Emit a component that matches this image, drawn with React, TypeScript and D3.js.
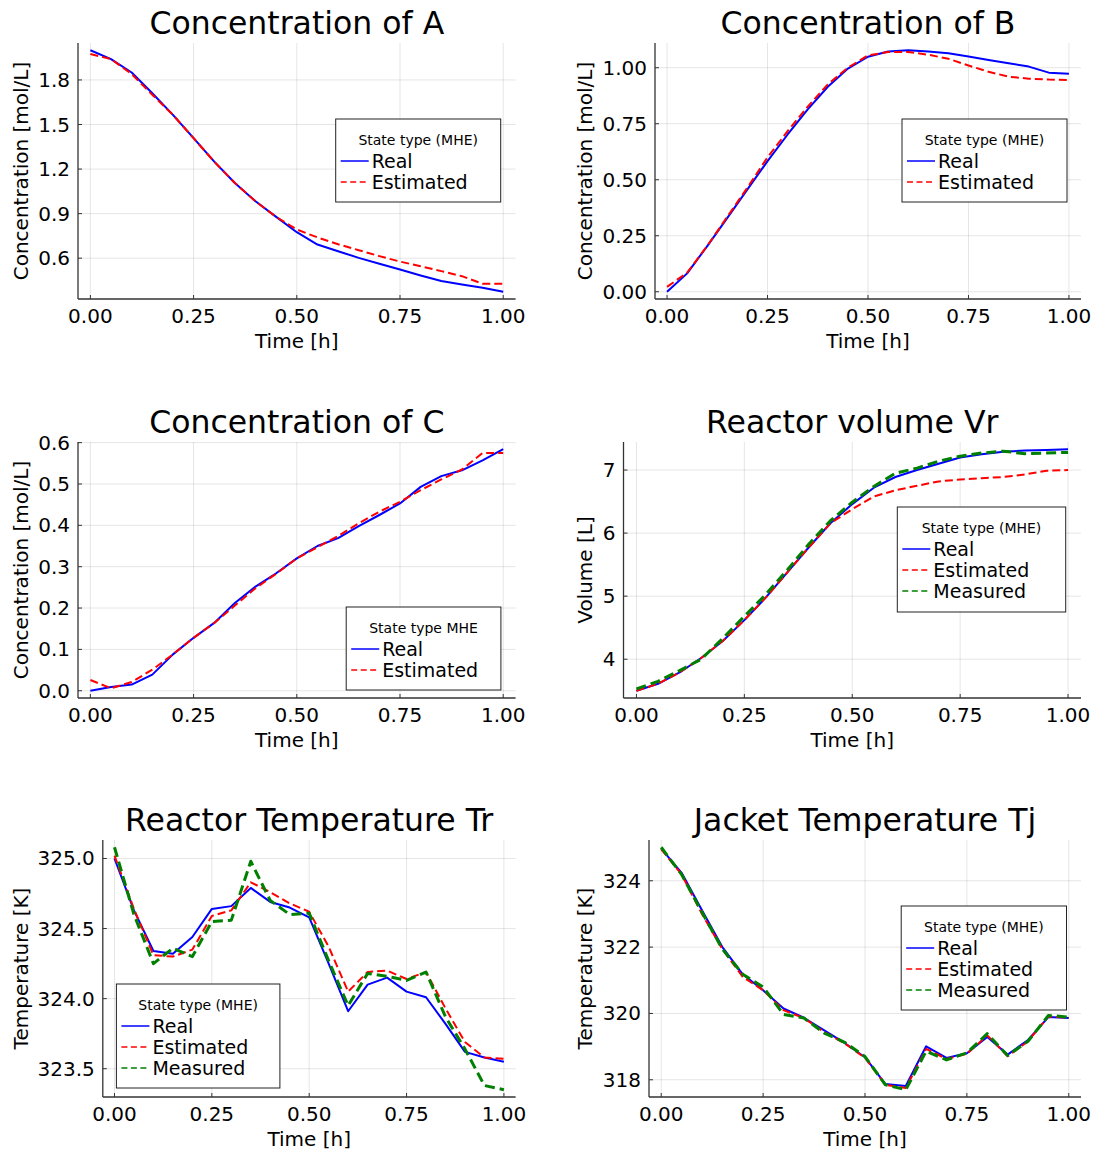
import React from 'react';
import * as d3 from 'd3';

// sampling times [h]
const timeH = [0, 0.05, 0.1, 0.15, 0.2, 0.25, 0.3, 0.35, 0.4, 0.45, 0.5, 0.55, 0.6, 0.65, 0.7, 0.75, 0.8, 0.85, 0.9, 0.95, 1.0];

// Concentration of A [mol/L]
const caReal = [2.0, 1.94, 1.85, 1.71, 1.565, 1.408, 1.25, 1.106, 0.983, 0.878, 0.775, 0.692, 0.647, 0.602, 0.562, 0.524, 0.484, 0.446, 0.423, 0.401, 0.374];
const caEst = [1.975, 1.94, 1.84, 1.70, 1.565, 1.408, 1.25, 1.106, 0.983, 0.878, 0.793, 0.74, 0.694, 0.654, 0.614, 0.577, 0.546, 0.513, 0.479, 0.428, 0.428];

// Concentration of B [mol/L]
const cbReal = [0.0, 0.082, 0.204, 0.33, 0.457, 0.583, 0.702, 0.814, 0.915, 0.996, 1.049, 1.072, 1.078, 1.072, 1.065, 1.05, 1.034, 1.02, 1.005, 0.978, 0.973];
const cbEst = [0.022, 0.085, 0.205, 0.335, 0.465, 0.6, 0.717, 0.826, 0.926, 1.0, 1.055, 1.07, 1.07, 1.058, 1.04, 1.01, 0.982, 0.96, 0.951, 0.947, 0.945];

// Concentration of C [mol/L]
const ccReal = [0.0, 0.009, 0.015, 0.039, 0.088, 0.128, 0.164, 0.212, 0.252, 0.284, 0.32, 0.35, 0.369, 0.398, 0.425, 0.453, 0.493, 0.519, 0.533, 0.557, 0.584];
const ccEst = [0.026, 0.006, 0.021, 0.051, 0.088, 0.128, 0.164, 0.206, 0.248, 0.283, 0.32, 0.347, 0.374, 0.405, 0.433, 0.457, 0.485, 0.511, 0.535, 0.575, 0.575];

// Reactor volume [L]
const vrReal = [3.5, 3.61, 3.79, 4.02, 4.29, 4.62, 4.98, 5.38, 5.78, 6.16, 6.46, 6.72, 6.89, 7.0, 7.1, 7.2, 7.25, 7.29, 7.31, 7.32, 7.33];
const vrEst = [3.5, 3.61, 3.79, 4.02, 4.29, 4.62, 4.98, 5.38, 5.78, 6.16, 6.38, 6.58, 6.68, 6.75, 6.82, 6.85, 6.87, 6.89, 6.93, 6.99, 7.0];
const vrMeas = [3.53, 3.65, 3.82, 4.0, 4.33, 4.68, 5.03, 5.42, 5.83, 6.2, 6.49, 6.74, 6.95, 7.03, 7.14, 7.22, 7.27, 7.3, 7.26, 7.27, 7.28];

// Reactor temperature [K]
const trReal = [325.0, 324.63, 324.34, 324.32, 324.44, 324.64, 324.66, 324.79, 324.69, 324.65, 324.58, 324.25, 323.91, 324.1, 324.15, 324.05, 324.01, 323.82, 323.62, 323.58, 323.55];
const trEst = [325.02, 324.64, 324.31, 324.30, 324.35, 324.59, 324.63, 324.83, 324.76, 324.68, 324.62, 324.37, 324.05, 324.19, 324.2, 324.14, 324.19, 323.93, 323.69, 323.58, 323.57];
const trMeas = [325.08, 324.6, 324.25, 324.36, 324.3, 324.55, 324.56, 324.98, 324.7, 324.6, 324.61, 324.27, 323.95, 324.18, 324.16, 324.13, 324.19, 323.87, 323.64, 323.38, 323.35];

// Jacket temperature [K]
const tjReal = [324.97, 324.24, 323.11, 322.0, 321.18, 320.7, 320.15, 319.87, 319.49, 319.11, 318.68, 317.87, 317.81, 319.01, 318.66, 318.8, 319.29, 318.76, 319.2, 319.89, 319.86];
const tjEst = [324.95, 324.19, 323.0, 321.94, 321.1, 320.7, 320.1, 319.86, 319.44, 319.1, 318.66, 317.85, 317.75, 318.93, 318.63, 318.78, 319.34, 318.71, 319.16, 319.91, 319.87];
const tjMeas = [325.01, 324.19, 323.05, 321.94, 321.18, 320.8, 319.97, 319.86, 319.41, 319.13, 318.7, 317.85, 317.7, 318.86, 318.6, 318.81, 319.39, 318.73, 319.16, 319.94, 319.89];

// tick labels
const xTicks = ['0.00', '0.25', '0.50', '0.75', '1.00'];
const caTicks = ['0.6', '0.9', '1.2', '1.5', '1.8'];
const cbTicks = ['0.00', '0.25', '0.50', '0.75', '1.00'];
const ccTicks = ['0.0', '0.1', '0.2', '0.3', '0.4', '0.5', '0.6'];
const vrTicks = ['4', '5', '6', '7'];
const trTicks = ['323.5', '324.0', '324.5', '325.0'];
const tjTicks = ['318', '320', '322', '324'];

const FONT = '"DejaVu Sans", Verdana, sans-serif';

const STYLES = {
  Real: { color: '#0000ff', width: 2, dash: null, legendDash: null },
  Estimated: { color: '#ff0000', width: 2, dash: '8 4', legendDash: '6 3.5' },
  Measured: { color: '#008000', width: 3, dash: '10 5', legendDash: '6 3.5' },
};

type Series = { name: string; values: number[] };

type PanelProps = {
  title: string;
  yLabel: string;
  series: Series[];
  yTicks: string[];
  left: number;
  right: number;
  top: number;
  bottom: number;
  labelX: number;
  legend: { x: number; y: number; w: number; h: number; title: string };
};

const Panel = ({ title, yLabel, series, yTicks, left, right, top, bottom, labelX, legend }: PanelProps) => {
  // Plots.jl style: widen data extent by 3% on each side
  const widen = (ext: [number, number]) => {
    const r = ext[1] - ext[0];
    return [ext[0] - 0.03 * r, ext[1] + 0.03 * r];
  };
  const x = d3.scaleLinear().domain(widen(d3.extent(timeH) as [number, number])).range([left, right]);
  const allY = series.flatMap((s) => s.values);
  const y = d3.scaleLinear().domain(widen(d3.extent(allY) as [number, number])).range([bottom, top]);

  const line = (vals: number[]) =>
    d3
      .line<number>()
      .x((_, i) => x(timeH[i]))
      .y((d) => y(d))(vals) || '';

  const cx = (left + right) / 2;

  return (
    <g>
      {/* grid */}
      {xTicks.map((t) => (
        <line key={'gx' + t} x1={x(+t)} x2={x(+t)} y1={top} y2={bottom} stroke="#000" strokeOpacity={0.1} strokeWidth={1} />
      ))}
      {yTicks.map((t) => (
        <line key={'gy' + t} x1={left} x2={right} y1={y(+t)} y2={y(+t)} stroke="#000" strokeOpacity={0.1} strokeWidth={1} />
      ))}
      {/* axes */}
      <line x1={left} x2={right} y1={bottom} y2={bottom} stroke="#333" strokeWidth={1.3} />
      <line x1={left} x2={left} y1={top} y2={bottom} stroke="#333" strokeWidth={1.3} />
      {xTicks.map((t) => (
        <g key={'tx' + t}>
          <line x1={x(+t)} x2={x(+t)} y1={bottom} y2={bottom - 4} stroke="#333" />
          <text x={x(+t)} y={bottom + 16.5} textAnchor="middle" dominantBaseline="central" fontSize={20}>
            {t}
          </text>
        </g>
      ))}
      {yTicks.map((t) => (
        <g key={'ty' + t}>
          <line x1={left} x2={left + 4} y1={y(+t)} y2={y(+t)} stroke="#333" />
          <text x={left - 8} y={y(+t)} textAnchor="end" dominantBaseline="central" fontSize={20}>
            {t}
          </text>
        </g>
      ))}
      {/* labels */}
      <text x={cx} y={bottom + 41.5} textAnchor="middle" dominantBaseline="central" fontSize={20}>
        Time [h]
      </text>
      <text
        transform={`translate(${labelX},${(top + bottom) / 2}) rotate(-90)`}
        textAnchor="middle"
        dominantBaseline="central"
        fontSize={20}
      >
        {yLabel}
      </text>
      <text x={cx} y={top - 20} textAnchor="middle" dominantBaseline="central" fontSize={31.5}>
        {title}
      </text>
      {/* series */}
      <g>
        {series.map((s) => {
          const st = STYLES[s.name];
          return (
            <path
              key={s.name}
              d={line(s.values)}
              fill="none"
              stroke={st.color}
              strokeWidth={st.width}
              strokeDasharray={st.dash || undefined}
              strokeLinejoin="round"
            />
          );
        })}
      </g>
      {/* legend */}
      <g>
        <rect x={legend.x} y={legend.y} width={legend.w} height={legend.h} fill="#fff" stroke="#222" strokeWidth={1} />
        <text x={legend.x + legend.w / 2} y={legend.y + 21} textAnchor="middle" dominantBaseline="central" fontSize={14}>
          {legend.title}
        </text>
        {series.map((s, i) => {
          const st = STYLES[s.name];
          const ly = legend.y + 42 + i * 21;
          return (
            <g key={'lg' + s.name}>
              <line
                x1={legend.x + 5}
                x2={legend.x + 33}
                y1={ly}
                y2={ly}
                stroke={st.color}
                strokeWidth={1.5}
                strokeDasharray={st.legendDash || undefined}
              />
              <text x={legend.x + 36} y={ly} dominantBaseline="central" fontSize={19}>
                {s.name}
              </text>
            </g>
          );
        })}
      </g>
    </g>
  );
};

const App = () => {
  return (
    <>
      <style>{'body{margin:0}'}</style>
      <svg width={1099} height={1149} style={{ display: 'block', background: '#fff', fontFamily: FONT }}>
        <Panel
          title="Concentration of A"
          yLabel="Concentration [mol/L]"
          series={[
            { name: 'Real', values: caReal },
            { name: 'Estimated', values: caEst },
          ]}
          yTicks={caTicks}
          left={78}
          right={515.6}
          top={43}
          bottom={299}
          labelX={21}
          legend={{ x: 335.7, y: 119, w: 165, h: 83, title: 'State type (MHE)' }}
        />
        <Panel
          title="Concentration of B"
          yLabel="Concentration [mol/L]"
          series={[
            { name: 'Real', values: cbReal },
            { name: 'Estimated', values: cbEst },
          ]}
          yTicks={cbTicks}
          left={655}
          right={1081}
          top={43}
          bottom={299}
          labelX={585}
          legend={{ x: 902, y: 119, w: 165, h: 83, title: 'State type (MHE)' }}
        />
        <Panel
          title="Concentration of C"
          yLabel="Concentration [mol/L]"
          series={[
            { name: 'Real', values: ccReal },
            { name: 'Estimated', values: ccEst },
          ]}
          yTicks={ccTicks}
          left={78}
          right={515.6}
          top={442}
          bottom={698}
          labelX={21}
          legend={{ x: 346.2, y: 607, w: 154.7, h: 83, title: 'State type MHE' }}
        />
        <Panel
          title="Reactor volume Vr"
          yLabel="Volume [L]"
          series={[
            { name: 'Real', values: vrReal },
            { name: 'Estimated', values: vrEst },
            { name: 'Measured', values: vrMeas },
          ]}
          yTicks={vrTicks}
          left={623.5}
          right={1081}
          top={442}
          bottom={698}
          labelX={585}
          legend={{ x: 897.3, y: 507, w: 168.4, h: 105, title: 'State type (MHE)' }}
        />
        <Panel
          title="Reactor Temperature Tr"
          yLabel="Temperature [K]"
          series={[
            { name: 'Real', values: trReal },
            { name: 'Estimated', values: trEst },
            { name: 'Measured', values: trMeas },
          ]}
          yTicks={trTicks}
          left={102.8}
          right={515.6}
          top={840}
          bottom={1097}
          labelX={21}
          legend={{ x: 116.4, y: 984, w: 163.5, h: 104, title: 'State type (MHE)' }}
        />
        <Panel
          title="Jacket Temperature Tj"
          yLabel="Temperature [K]"
          series={[
            { name: 'Real', values: tjReal },
            { name: 'Estimated', values: tjEst },
            { name: 'Measured', values: tjMeas },
          ]}
          yTicks={tjTicks}
          left={649}
          right={1081}
          top={840}
          bottom={1097}
          labelX={585}
          legend={{ x: 901.2, y: 906, w: 165.3, h: 104, title: 'State type (MHE)' }}
        />
      </svg>
    </>
  );
};

export default App;
